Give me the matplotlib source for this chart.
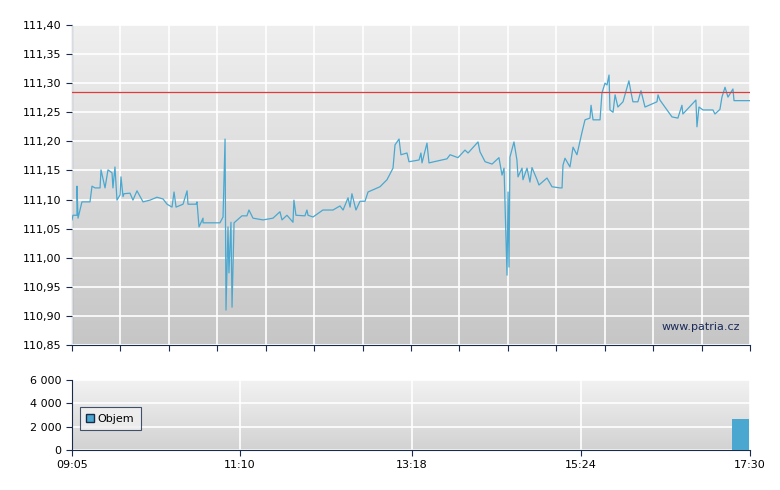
import matplotlib
matplotlib.use("Agg")
import matplotlib.pyplot as plt
import numpy as np
from matplotlib.patches import Patch
from matplotlib.colors import LinearSegmentedColormap

# minutes since 09:05
minutes = [0,0.7,3.7,3.7,4.5,7.4,13.4,14.9,17.1,20.9,21.6,24.6,26.8,29.8,30.5,32,33.5,35.8,36.5,38,38.7,
           43.2,45.4,48.4,52.9,58.1,63.3,67.8,70.8,74.5,76,77.5,82.7,85.7,86.4,92.4,93.1,94.6,97.6,97.6,110.2,
           112.5,114,114.7,116.2,116.9,118.4,119.2,120.7,126.6,130.3,131.8,134.8,142.3,149.7,154.9,156.4,160.1,
           164.6,165.3,166.8,173.5,175,175.8,179.5,186.9,194.4,199.6,201.9,205.6,207.1,208.5,211.5,214.5,218.2,
           220.5,223.4,229.4,234.6,239.1,240.6,243.6,245,249.5,251,258.5,259.9,260.7,264.4,265.9,279.3,281.6,
           287.5,292.7,295,302.4,303.9,307.7,312.9,318,320.3,321.8,324,324.8,325.5,326.2,329.2,331.4,332.2,
           335.2,335.9,338.9,341.1,342.6,346.4,347.8,353.8,357.5,363.5,365,365.7,367.2,370.9,373.2,376.1,379.9,
           382.1,385.8,386.6,388.1,393.3,394.7,397,398.5,400,400.7,403,404.5,406.6,410.4,413.4,414.8,416.3,
           417.8,421.5,423.8,426.8,435.7,436.5,437.9,446.9,451.3,454.3,455,464.7,465.5,467,470,477.4,478.9,
           482.6,484.1,486.4,488.6,492.3,493.1,505]
price = [111.065,111.073,111.073,111.123,111.068,111.096,111.096,111.123,111.12,111.12,111.151,111.12,111.151,
         111.146,111.12,111.156,111.099,111.108,111.139,111.105,111.11,111.111,111.099,111.115,111.096,111.099,
         111.104,111.101,111.092,111.087,111.113,111.087,111.092,111.115,111.092,111.092,111.096,111.053,111.068,
         111.06,111.06,111.07,111.204,110.91,111.053,110.974,111.061,110.915,111.06,111.072,111.072,111.082,
         111.068,111.065,111.068,111.079,111.065,111.073,111.061,111.099,111.073,111.072,111.082,111.073,111.07,
         111.082,111.082,111.089,111.082,111.103,111.087,111.11,111.082,111.097,111.097,111.113,111.116,111.122,
         111.134,111.154,111.194,111.204,111.177,111.18,111.165,111.168,111.18,111.163,111.197,111.163,111.17,
         111.177,111.172,111.185,111.18,111.199,111.182,111.165,111.161,111.172,111.142,111.154,110.97,111.113,
         110.984,111.173,111.199,111.168,111.139,111.154,111.134,111.154,111.13,111.155,111.134,111.125,111.137,
         111.122,111.12,111.12,111.159,111.171,111.156,111.19,111.177,111.216,111.237,111.24,111.262,111.237,
         111.237,111.283,111.30,111.297,111.314,111.254,111.25,111.28,111.259,111.268,111.293,111.304,111.285,
         111.268,111.268,111.287,111.259,111.268,111.28,111.271,111.242,111.24,111.262,111.247,111.271,111.225,
         111.259,111.254,111.254,111.247,111.255,111.276,111.293,111.276,111.29,111.27,111.27]
ref_price = 111.285
vol_minutes = [498]
volume = [2700]
tick_labels = ["09:05", "11:10", "13:18", "15:24", "17:30"]
tick_minutes = [0, 125, 253, 379, 505]

line_c = "#4aa8d0"
fig = plt.figure(figsize=(7.8, 4.9), dpi=100)
fig.patch.set_facecolor("white")
ax = fig.add_axes([72/780, 1-345/490, 678/780, 320/490])
bx = fig.add_axes([72/780, 1-450/490, 678/780, 70/490])

def grad(a, top, bot):
    g = np.linspace(0, 1, 256).reshape(-1, 1)
    cm = LinearSegmentedColormap.from_list("g", [top, bot])
    a.imshow(g, aspect="auto", cmap=cm, extent=[0, 1, 0, 1], transform=a.transAxes, zorder=0)

grad(ax, "#efefef", "#c6c6c6")
grad(bx, "#f2f2f2", "#d2d2d2")

ax.plot(minutes, price, color=line_c, lw=0.9, zorder=3)
ax.axhline(ref_price, color="#e03a3a", lw=0.9, zorder=4)
ax.set_xlim(0, 505)
ax.set_ylim(110.85, 111.40)
yt = np.arange(110.85, 111.401, 0.05)
ax.set_yticks(yt)
ax.set_yticklabels([f"{v:.2f}".replace(".", ",") for v in yt])
xg = np.linspace(0, 505, 15)
ax.set_xticks(xg)
ax.set_xticklabels([])
ax.grid(True, color="white", lw=1.2, zorder=1)
ax.set_axisbelow(False)
for s in ["top", "right"]:
    ax.spines[s].set_visible(False)
for s in ["left", "bottom"]:
    ax.spines[s].set_color("#1a2a4a")
ax.tick_params(axis="both", direction="out", length=4, color="#1a2a4a", labelsize=8)
ax.text(0.985, 0.055, "www.patria.cz", transform=ax.transAxes, ha="right", va="center",
        fontsize=8, color="#1a2a5a", zorder=5)

bx.bar(vol_minutes, volume, width=12.7, color=line_c, zorder=3)
bx.set_xlim(0, 505)
bx.set_ylim(0, 6000)
bx.set_yticks([0, 2000, 4000, 6000])
bx.set_yticklabels(["0", "2 000", "4 000", "6 000"])
bx.set_xticks(tick_minutes)
bx.set_xticklabels(tick_labels)
bx.grid(True, color="white", lw=1.2, zorder=1)
for s in ["top", "right"]:
    bx.spines[s].set_visible(False)
for s in ["left", "bottom"]:
    bx.spines[s].set_color("#1a2a4a")
bx.tick_params(axis="both", direction="out", length=4, color="#1a2a4a", labelsize=8)
leg = bx.legend(handles=[Patch(facecolor=line_c, edgecolor="#1a2a4a", label="Objem")],
                loc="lower left", bbox_to_anchor=(0.003, 0.2), fontsize=8, frameon=True,
                fancybox=False, handlelength=0.7, handleheight=0.7, borderpad=0.6, handletextpad=0.3)
leg.get_frame().set_edgecolor("#1a2a4a")
leg.get_frame().set_facecolor("#f0f0f0")
leg.get_frame().set_linewidth(0.8)

fig.savefig("out.png", dpi=100)
